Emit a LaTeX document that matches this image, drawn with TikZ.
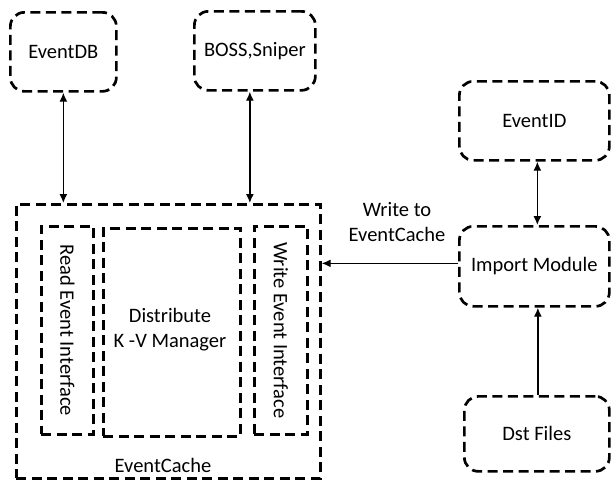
\documentclass[tikz,border=0pt]{standalone}
\usepackage{fontspec}
\setmainfont{Carlito}
\usetikzlibrary{arrows.meta}
\begin{document}
\begin{tikzpicture}[x=1pt,y=-1pt,
  box/.style={draw, line width=2.7pt, dash pattern=on 10pt off 5.5pt, rounded corners=14pt,
    anchor=north west, inner sep=0pt, font=\fontsize{20.5}{25}\selectfont, align=center},
  sqbox/.style={box, rounded corners=0pt},
  lbl/.style={inner sep=0pt, font=\fontsize{20.5}{25}\selectfont, align=center},
  link/.style={line width=1.4pt, -{Latex[length=9pt,width=8pt]}},
  biway/.style={line width=1.4pt, {Latex[length=9pt,width=8pt]}-{Latex[length=9pt,width=8pt]}}]
\useasboundingbox (0,0) rectangle (611,480);

% external components
\node[box, minimum width=106pt, minimum height=79pt] (db) at (9,11) {EventDB};
\node[box, minimum width=121pt, minimum height=79pt] (boss) at (193,10) {BOSS,Sniper};
\node[box, minimum width=150pt, minimum height=79pt] (eid) at (458,80) {EventID};
\node[box, minimum width=150pt, minimum height=80pt] (imp) at (458,225) {Import Module};
\node[box, minimum width=145pt, minimum height=75pt] (dst) at (463,395) {Dst Files};

% EventCache and its parts
\node[sqbox, minimum width=304pt, minimum height=274pt] (cache) at (15,203) {};
\node[lbl] (cachelbl) at (163,465) {EventCache};
\node[sqbox, minimum width=52pt, minimum height=208pt] (rd) at (40,225) {};
\node[lbl, rotate=-90] (rdlbl) at (rd.center) {Read Event Interface};
\node[sqbox, minimum width=137pt, minimum height=208pt] (kv) at (102,227) {};
\node[lbl] (kvlbl) at (170,330) {Distribute\\K -V Manager};
\node[sqbox, minimum width=53pt, minimum height=208pt] (wr) at (253,225) {};
\node[lbl, rotate=-90] (wrlbl) at (wr.center) {Write Event Interface};

% connectors
\draw[biway] (db.south) -- (db.south |- cache.north);
\draw[biway] ([xshift=-5pt]boss.south) -- ([xshift=-5pt]boss.south |- cache.north);
\draw[biway] ([xshift=3pt]eid.south) -- ([xshift=3pt]imp.north);
\draw[link] ([xshift=1pt]dst.north) -- ([xshift=1pt]dst.north |- imp.south);
\draw[link] ([yshift=3pt]imp.west) -- ([yshift=3pt]imp.west -| cache.east);
\node[lbl] (wlbl) at (397,222) {Write to\\EventCache};
\end{tikzpicture}
\end{document}
